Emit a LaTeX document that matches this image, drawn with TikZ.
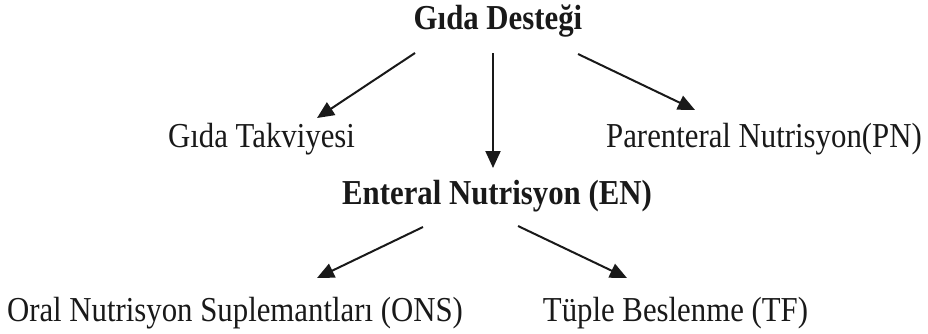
\documentclass[tikz,border=0pt]{standalone}
\usepackage{fontspec}
\setmainfont{Liberation Serif}[FakeStretch=0.88]
\usetikzlibrary{arrows.meta}
\begin{document}
\begin{tikzpicture}[x=1pt,y=-1pt,
  lbl/.style={anchor=base,inner sep=0pt,font=\fontsize{35}{40}\selectfont,text=black!90},
  blbl/.style={lbl,font=\fontsize{35}{40}\selectfont\bfseries},
  arr/.style={line width=2pt,draw=black!90,-{Triangle[length=17pt,width=15pt]}}]
\useasboundingbox (0,0) rectangle (928,333);
\node[blbl] (gd) at (498,29) {Gıda Desteği};
\node[lbl] (gt) at (261.5,147) {Gıda Takviyesi};
\node[lbl] (pn) at (764,147) {Parenteral Nutrisyon(PN)};
\node[blbl] (en) at (497,204) {Enteral Nutrisyon (EN)};
\node[lbl] (ons) at (235,321) {Oral Nutrisyon Suplemantları (ONS)};
\node[lbl] (tf) at (675.5,321) {Tüple Beslenme (TF)};
\coordinate (gdL) at (415,53);
\coordinate (gdM) at (493,53);
\coordinate (gdR) at (578,54);
\coordinate (gtT) at (317,118);
\coordinate (enT) at (493,168);
\coordinate (pnT) at (695,110);
\coordinate (enL) at (423,227);
\coordinate (enR) at (518,226);
\coordinate (onsT) at (317,278);
\coordinate (tfT) at (627,278);
\draw[arr] (gdL) -- (gtT);
\draw[arr] (gdM) -- (enT);
\draw[arr] (gdR) -- (pnT);
\draw[arr] (enL) -- (onsT);
\draw[arr] (enR) -- (tfT);
\end{tikzpicture}
\end{document}
